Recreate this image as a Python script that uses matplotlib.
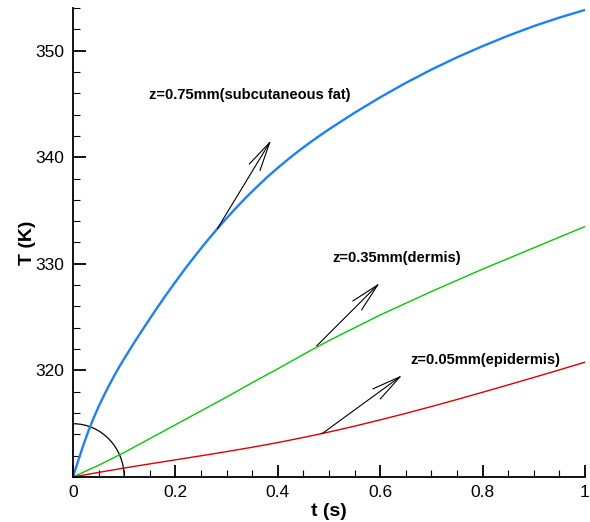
import numpy as np
import matplotlib
matplotlib.use("Agg")
import matplotlib.pyplot as plt
from matplotlib.patches import Arc
from matplotlib.ticker import MultipleLocator

plt.rcParams["font.family"] = ["Liberation Sans", "DejaVu Sans"]

# temperature histories at three depths (t in s, T in K)
t_fat = [0, 0.01, 0.02, 0.03, 0.04, 0.05, 0.06, 0.07, 0.08, 0.09, 0.10,
         0.12, 0.14, 0.16, 0.18, 0.20, 0.22, 0.24, 0.26, 0.28, 0.30, 0.32,
         0.34, 0.36, 0.38, 0.40, 0.42, 0.44, 0.46, 0.48, 0.50,
         0.55, 0.60, 0.65, 0.70, 0.75, 0.80, 0.85, 0.90, 0.95, 1.0]
T_fat = [310, 311.5, 312.95, 314.3, 315.5, 316.6, 317.6, 318.55, 319.45,
         320.3, 321.1, 322.64, 324.12, 325.56, 326.96, 328.3, 329.6, 330.84,
         332.04, 333.18, 334.28, 335.32, 336.32, 337.26, 338.16, 339.0,
         339.8, 340.56, 341.28, 341.96, 342.62, 344.17, 345.62, 346.97,
         348.22, 349.37, 350.42, 351.4, 352.3, 353.1, 353.82]

t_dermis = [0, 0.05, 0.1, 0.15, 0.2, 0.25, 0.3, 0.35, 0.4, 0.45, 0.5,
            0.55, 0.6, 0.65, 0.7, 0.75, 0.8, 0.85, 0.9, 0.95, 1.0]
T_dermis = [310, 311.1, 312.3, 313.6, 314.9, 316.2, 317.5, 318.85, 320.15,
            321.5, 322.8, 324.0, 325.2, 326.3, 327.4, 328.45, 329.5, 330.5,
            331.5, 332.5, 333.5]

t_epi = [0, 0.05, 0.1, 0.15, 0.2, 0.25, 0.3, 0.35, 0.4, 0.45, 0.5,
         0.55, 0.6, 0.65, 0.7, 0.75, 0.8, 0.85, 0.9, 0.95, 1.0]
T_epi = [310, 310.43, 310.84, 311.23, 311.61, 311.99, 312.38, 312.79,
         313.23, 313.71, 314.22, 314.77, 315.36, 315.97, 316.61, 317.27,
         317.95, 318.64, 319.34, 320.05, 320.77]

labels = ["z=0.75mm(subcutaneous fat)", "z=0.35mm(dermis)", "z=0.05mm(epidermis)"]
label_pos = [(0.148, 345.85), (0.506, 330.5), (0.658, 320.97)]
arrow_start = [(0.282, 333.3), (0.476, 322.3), (0.486, 314.05)]
arrow_tip = [(0.387, 341.6), (0.599, 328.2), (0.643, 319.55)]

fig = plt.figure(figsize=(5.9, 5.22), dpi=100)
ax = fig.add_axes([0.1237, 0.0862, 0.8678, 0.8985])

ax.plot(t_fat, T_fat, color="#1a80ff", lw=1.7)
ax.plot(t_dermis, T_dermis, color="#00cc00", lw=1.0)
ax.plot(t_epi, T_epi, color="#dd0000", lw=1.0)

# quarter circle at the origin
ax.add_patch(Arc((0, 310), 0.2, 10, theta1=0, theta2=90, color="black", lw=0.9))

for txt, pos, s, e in zip(labels, label_pos, arrow_start, arrow_tip):
    ax.text(pos[0], pos[1], txt, fontsize=10.5, fontweight="bold", va="center", ha="left")
    ax.annotate("", xy=e, xytext=s,
                arrowprops=dict(arrowstyle="->,head_length=2.1,head_width=0.45",
                                lw=0.8, color="black", shrinkA=0, shrinkB=0))

ax.set_xlim(0, 1)
ax.set_ylim(310, 354)
ax.set_xticks([0, 0.2, 0.4, 0.6, 0.8, 1])
ax.set_xticklabels(["0", "0.2", "0.4", "0.6", "0.8", "1"])
ax.set_yticks([320, 330, 340, 350])
ax.xaxis.set_minor_locator(MultipleLocator(0.05))
ax.yaxis.set_minor_locator(MultipleLocator(2))

ax.spines["top"].set_visible(False)
ax.spines["right"].set_visible(False)
for sp in ["left", "bottom"]:
    ax.spines[sp].set_linewidth(1.3)

ax.tick_params(which="major", direction="in", length=9, width=1.3, labelsize=12.5, pad=6)
ax.tick_params(which="minor", direction="in", length=5, width=0.8)

ax.set_xlabel("t (s)", fontsize=14, fontweight="bold", labelpad=2)
ax.set_ylabel("T (K)", fontsize=14, fontweight="bold", labelpad=0)

plt.savefig("out.png", dpi=100)
